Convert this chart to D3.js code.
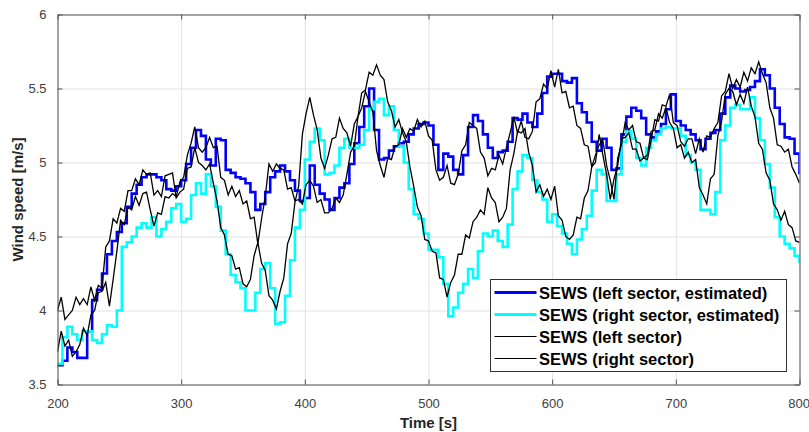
<!DOCTYPE html>
<html>
<head>
<meta charset="utf-8">
<script src="https://cdn.jsdelivr.net/npm/d3@7/dist/d3.min.js"></script>
<style>
  html, body { margin: 0; padding: 0; background: #fff; }
  svg { display: block; font-family: "Liberation Sans", Arial, Helvetica, sans-serif; }
</style>
</head>
<body>
<svg id="chart" width="809" height="432"></svg>
<script>
// Sector-effective wind speed (SEWS): estimated values (4 s update) and measured values (3 s samples)
const estStart = 200, estStep = 4;
const measStart = 200, measStep = 3;

const leftEstimated = [
  3.63, 3.66, 3.75, 3.72, 3.68, 3.68, 3.86, 4.07, 4.14, 4.25,
  4.38, 4.47, 4.53, 4.59, 4.70, 4.79, 4.85, 4.90, 4.92, 4.92,
  4.90, 4.88, 4.82, 4.81, 4.84, 4.88, 4.99, 5.10, 5.22, 5.18,
  5.02, 4.98, 5.16, 5.15, 4.95, 4.93, 4.90, 4.89, 4.86, 4.80,
  4.68, 4.72, 4.80, 4.90, 4.94, 4.98, 4.94, 4.88, 4.81, 4.74,
  4.76, 4.98, 4.85, 4.79, 4.75, 4.68, 4.76, 4.83, 4.86, 4.99,
  5.13, 5.24, 5.38, 5.50, 5.22, 5.02, 5.03, 5.08, 5.11, 5.13,
  5.14, 5.19, 5.23, 5.26, 5.27, 5.25, 5.12, 4.95, 5.06, 5.04,
  4.95, 4.92, 5.05, 5.24, 5.32, 5.28, 5.19, 5.10, 5.03, 5.07,
  5.08, 5.14, 5.30, 5.29, 5.33, 5.27, 5.24, 5.33, 5.47, 5.58,
  5.60, 5.60, 5.55, 5.54, 5.57, 5.40, 5.34, 5.27, 5.14, 5.08,
  5.16, 5.10, 4.95, 4.96, 5.19, 5.31, 5.37, 5.35, 5.30, 5.19,
  5.17, 5.21, 5.26, 5.36, 5.46, 5.28, 5.25, 5.22, 5.19, 5.15,
  5.09, 5.16, 5.20, 5.22, 5.33, 5.44, 5.52, 5.50, 5.48, 5.49,
  5.51, 5.55, 5.63, 5.59, 5.50, 5.37, 5.26, 5.17, 5.16, 5.06,
  4.92
];

const rightEstimated = [
  3.64, 3.82, 3.89, 3.84, 3.80, 3.86, 3.86, 3.80, 3.78, 3.84,
  3.90, 3.89, 4.00, 4.43, 4.46, 4.50, 4.56, 4.59, 4.56, 4.63,
  4.50, 4.55, 4.60, 4.69, 4.72, 4.60, 4.62, 4.78, 4.86, 4.79,
  4.92, 4.84, 4.70, 4.54, 4.38, 4.24, 4.19, 4.15, 4.00, 4.00,
  4.12, 4.28, 4.32, 4.15, 3.91, 3.92, 4.10, 4.34, 4.56, 4.68,
  5.02, 5.14, 5.23, 5.15, 4.92, 4.93, 4.98, 5.10, 5.16, 5.10,
  5.10, 5.12, 5.22, 5.36, 5.41, 5.43, 5.32, 5.38, 5.22, 5.11,
  5.00, 4.82, 4.65, 4.62, 4.52, 4.41, 4.41, 4.36, 4.18, 3.96,
  4.02, 4.12, 4.18, 4.28, 4.22, 4.40, 4.52, 4.50, 4.54, 4.47,
  4.43, 4.58, 4.82, 4.94, 5.05, 5.03, 4.88, 4.80, 4.75, 4.60,
  4.65, 4.57, 4.52, 4.45, 4.38, 4.48, 4.55, 4.64, 4.81, 4.95,
  4.92, 4.74, 4.74, 4.92, 5.14, 5.21, 5.16, 5.03, 4.98, 5.10,
  5.15, 5.19, 5.23, 5.24, 5.23, 5.23, 5.18, 5.05, 5.00, 4.95,
  4.68, 4.68, 4.65, 4.80, 5.15, 5.25, 5.37, 5.39, 5.36, 5.36,
  5.44, 5.30, 5.15, 4.99, 4.83, 4.63, 4.50, 4.45, 4.42, 4.37,
  4.32
];

const leftMeasured = [
  3.72, 3.86, 3.76, 3.80, 3.69, 3.72, 3.77, 3.88, 3.83, 3.97,
  4.00, 4.12, 4.13, 4.19, 4.03, 4.21, 4.40, 4.61, 4.58, 4.70,
  4.68, 4.77, 4.71, 4.79, 4.80, 4.68, 4.57, 4.66, 4.65, 4.77,
  4.76, 4.79, 4.77, 4.87, 4.90, 5.05, 5.13, 5.24, 5.10, 5.07,
  5.10, 5.17, 5.10, 5.11, 4.90, 4.88, 4.78, 4.84, 4.77, 4.81,
  4.72, 4.74, 4.62, 4.63, 4.45, 4.62, 4.77, 4.99, 4.94, 4.99,
  4.96, 4.95, 4.82, 4.83, 4.74, 4.75, 4.72, 4.85, 4.88, 4.84,
  4.73, 4.75, 4.66, 4.66, 4.69, 4.76, 4.73, 4.78, 4.92, 5.07,
  5.11, 5.31, 5.37, 5.48, 5.41, 5.34, 5.08, 4.98, 4.90, 5.03,
  5.02, 5.11, 5.12, 5.23, 5.17, 5.23, 5.21, 5.29, 5.24, 5.28,
  5.18, 5.15, 4.95, 4.88, 4.90, 4.98, 4.86, 4.85, 4.92, 5.08,
  5.12, 5.27, 5.25, 5.23, 5.07, 5.03, 4.91, 4.96, 4.95, 5.05,
  4.99, 5.10, 5.20, 5.31, 5.20, 5.28, 5.17, 5.16, 5.21, 5.41,
  5.43, 5.53, 5.50, 5.62, 5.51, 5.63, 5.47, 5.48, 5.37, 5.38,
  5.25, 5.23, 5.12, 5.11, 4.97, 5.05, 5.12, 5.15, 4.98, 4.88,
  4.75, 5.03, 5.12, 5.27, 5.22, 5.25, 5.14, 5.13, 5.03, 5.02,
  5.15, 5.29, 5.28, 5.39, 5.38, 5.46, 5.27, 5.25, 5.14, 5.11,
  5.16, 5.16, 5.06, 5.16, 5.07, 5.18, 5.17, 5.23, 5.27, 5.45,
  5.48, 5.60, 5.50, 5.56, 5.51, 5.61, 5.55, 5.64, 5.60, 5.68,
  5.60, 5.54, 5.37, 5.30, 5.12, 5.11, 5.07, 5.09, 4.97, 4.92,
  4.86
];

const rightMeasured = [
  4.00, 4.09, 3.94, 3.97, 4.00, 4.09, 4.04, 4.08, 4.04, 4.16,
  4.07, 4.17, 4.15, 4.43, 4.47, 4.62, 4.59, 4.69, 4.67, 4.81,
  4.81, 4.89, 4.85, 4.95, 4.92, 4.93, 4.78, 4.81, 4.77, 4.91,
  4.92, 4.93, 4.76, 4.80, 4.82, 4.96, 4.97, 5.10, 5.00, 4.98,
  4.95, 4.99, 4.86, 4.74, 4.56, 4.51, 4.38, 4.37, 4.28, 4.29,
  4.18, 4.16, 4.21, 4.37, 4.46, 4.32, 4.27, 4.10, 4.07, 4.01,
  4.13, 4.22, 4.45, 4.52, 4.73, 4.84, 5.19, 5.33, 5.44, 5.32,
  5.22, 5.03, 4.96, 5.05, 5.16, 5.17, 5.30, 5.23, 5.20, 5.11,
  5.26, 5.31, 5.47, 5.49, 5.61, 5.59, 5.66, 5.59, 5.56, 5.41,
  5.35, 5.24, 5.29, 5.20, 5.14, 4.97, 4.84, 4.70, 4.64, 4.48,
  4.47, 4.40, 4.39, 4.22, 4.21, 4.09, 4.19, 4.24, 4.38, 4.38,
  4.51, 4.49, 4.60, 4.63, 4.68, 4.65, 4.83, 4.76, 4.73, 4.60,
  4.63, 4.69, 4.95, 5.06, 5.21, 5.20, 5.23, 5.07, 4.98, 4.80,
  4.85, 4.77, 4.82, 4.75, 4.84, 4.64, 4.61, 4.50, 4.48, 4.51,
  4.63, 4.62, 4.76, 4.81, 4.97, 5.00, 5.19, 5.05, 4.92, 4.75,
  4.89, 4.98, 5.16, 5.17, 5.20, 5.09, 5.09, 5.01, 5.03, 5.05,
  5.21, 5.22, 5.33, 5.30, 5.37, 5.27, 5.23, 5.10, 5.12, 5.03,
  5.07, 5.00, 5.02, 4.83, 4.78, 4.72, 4.89, 4.92, 5.18, 5.28,
  5.46, 5.50, 5.48, 5.39, 5.46, 5.40, 5.51, 5.38, 5.31, 5.13,
  5.09, 4.93, 4.88, 4.72, 4.68, 4.61, 4.67, 4.58, 4.56, 4.47,
  4.46
];

const xTicks = [200, 300, 400, 500, 600, 700, 800];
const yTicks = [3.5, 4, 4.5, 5, 5.5, 6];
const xTickLabels = ["200", "300", "400", "500", "600", "700", "800"];
const yTickLabels = ["3.5", "4", "4.5", "5", "5.5", "6"];

const seriesNames = [
  "SEWS (left sector, estimated)",
  "SEWS (right sector, estimated)",
  "SEWS (left sector)",
  "SEWS (right sector)"
];
const seriesColors = ["#0000ff", "#00ffff", "#000000", "#000000"];
const seriesWidths = [2.6, 2.6, 1.3, 1.3];

const xLabel = "Time [s]";
const yLabel = "Wind speed [m/s]";

(function draw() {
  const svg = d3.select("#chart");
  const pL = 57.5, pR = 799.5, pT = 14.5, pB = 384.5;
  const boxColor = "#555555";
  const labelColor = "#404040";
  const titleColor = "#262626";

  const x = d3.scaleLinear().domain([200, 800]).range([pL, pR]);
  const y = d3.scaleLinear().domain([3.5, 6]).range([pB, pT]);

  svg.append("defs").append("clipPath").attr("id", "plotClip")
    .append("rect").attr("x", pL).attr("y", pT - 1)
    .attr("width", pR - pL).attr("height", pB - pT + 2);

  // grid
  const grid = svg.append("g").attr("class", "grid");
  grid.append("g").attr("transform", `translate(0,${pB})`)
    .call(d3.axisBottom(x).tickValues(xTicks).tickSize(-(pB - pT)).tickFormat(""))
    .call(g => g.select(".domain").remove())
    .call(g => g.selectAll("line").attr("stroke", "#e2e2e2").attr("stroke-width", 1));
  grid.append("g").attr("transform", `translate(${pL},0)`)
    .call(d3.axisLeft(y).tickValues(yTicks).tickSize(-(pR - pL)).tickFormat(""))
    .call(g => g.select(".domain").remove())
    .call(g => g.selectAll("line").attr("stroke", "#e2e2e2").attr("stroke-width", 1));

  // data lines
  const estTime = i => estStart + i * estStep;
  const measTime = i => measStart + i * measStep;

  const stepLine = d3.line()
    .x((d, i) => x(estTime(i)))
    .y(d => y(d))
    .curve(d3.curveStepAfter);
  const plainLine = d3.line()
    .x((d, i) => x(measTime(i)))
    .y(d => y(d));

  const plot = svg.append("g").attr("clip-path", "url(#plotClip)");
  const seriesData = [leftEstimated, rightEstimated, leftMeasured, rightMeasured];
  const seriesGen = [stepLine, stepLine, plainLine, plainLine];
  seriesData.forEach((data, k) => {
    plot.append("path")
      .datum(data)
      .attr("fill", "none")
      .attr("stroke", seriesColors[k])
      .attr("stroke-width", seriesWidths[k])
      .attr("stroke-linejoin", "miter")
      .attr("d", seriesGen[k]);
  });

  // axes: box with inward ticks on all four sides
  const tickFont = g => g.selectAll("text")
    .attr("font-size", 13).attr("fill", labelColor)
    .attr("font-family", '"Liberation Sans", Arial, sans-serif');

  svg.append("g").attr("transform", `translate(0,${pB})`)
    .call(d3.axisBottom(x).tickValues(xTicks).tickSizeInner(-5).tickSizeOuter(0).tickPadding(14)
      .tickFormat((d, i) => xTickLabels[i]))
    .call(g => g.select(".domain").attr("stroke", boxColor))
    .call(g => g.selectAll("line").attr("stroke", boxColor))
    .call(tickFont)
    // the last label sits at the right window edge; keep it fully inside
    .call(g => g.selectAll(".tick text").filter(d => d === 800).attr("text-anchor", "end").attr("dx", "10"));

  svg.append("g").attr("transform", `translate(0,${pT})`)
    .call(d3.axisTop(x).tickValues(xTicks).tickSizeInner(-5).tickSizeOuter(0).tickFormat(""))
    .call(g => g.select(".domain").attr("stroke", boxColor))
    .call(g => g.selectAll("line").attr("stroke", boxColor));

  svg.append("g").attr("transform", `translate(${pL},0)`)
    .call(d3.axisLeft(y).tickValues(yTicks).tickSizeInner(-5).tickSizeOuter(0).tickPadding(11)
      .tickFormat((d, i) => yTickLabels[i]))
    .call(g => g.select(".domain").attr("stroke", boxColor))
    .call(g => g.selectAll("line").attr("stroke", boxColor))
    .call(tickFont);

  svg.append("g").attr("transform", `translate(${pR},0)`)
    .call(d3.axisRight(y).tickValues(yTicks).tickSizeInner(-5).tickSizeOuter(0).tickFormat(""))
    .call(g => g.select(".domain").attr("stroke", boxColor))
    .call(g => g.selectAll("line").attr("stroke", boxColor));

  // axis titles
  svg.append("text")
    .attr("x", (pL + pR) / 2).attr("y", 428)
    .attr("text-anchor", "middle")
    .attr("font-size", 15).attr("font-weight", "bold").attr("fill", titleColor)
    .text(xLabel);

  svg.append("text")
    .attr("transform", `translate(23,${(pT + pB) / 2}) rotate(-90)`)
    .attr("text-anchor", "middle")
    .attr("font-size", 15).attr("font-weight", "bold").attr("fill", titleColor)
    .text(yLabel);

  // legend
  const legend = svg.append("g").attr("transform", "translate(490.5,279.5)");
  legend.append("rect")
    .attr("width", 296).attr("height", 92)
    .attr("fill", "#fff").attr("stroke", "#333333").attr("stroke-width", 1);
  const rowY = [13, 35, 57, 79];
  const legendWidths = [2.8, 2.8, 1, 1];
  seriesNames.forEach((name, k) => {
    legend.append("line")
      .attr("x1", 4).attr("x2", 46)
      .attr("y1", rowY[k]).attr("y2", rowY[k])
      .attr("stroke", seriesColors[k]).attr("stroke-width", legendWidths[k]);
    legend.append("text")
      .attr("x", 48.5).attr("y", rowY[k] + 6)
      .attr("font-size", 16.5).attr("font-weight", "bold").attr("fill", "#000")
      .text(name);
  });
})();
</script>
</body>
</html>
